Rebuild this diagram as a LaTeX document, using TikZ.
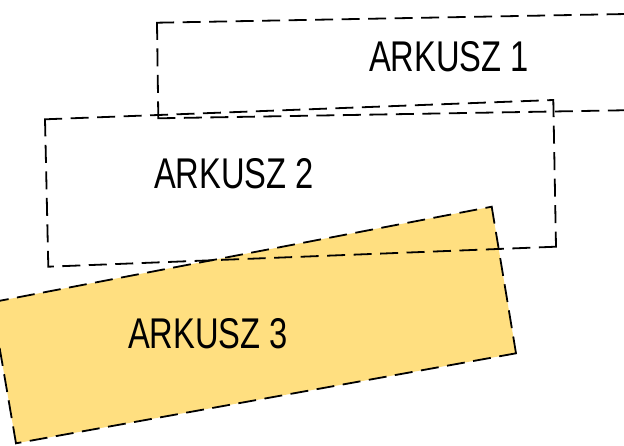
\documentclass[tikz,border=0pt]{standalone}
\usepackage{fontspec}
\setmainfont{Liberation Sans}
\usetikzlibrary{calc}
\definecolor{sheetyellow}{RGB}{255,223,128}
\tikzset{sheet/.style={draw=black, line width=1.8pt, line cap=rect, dash pattern=on 16.2pt off 10.3pt}}
\tikzset{sheetlabel/.style={inner sep=0pt, font=\fontsize{43pt}{43pt}\selectfont}}
\newcommand*\narrow[1]{\scalebox{0.76}[1]{#1}}

\begin{document}
\begin{tikzpicture}[x=1pt, y=-1pt]
        \useasboundingbox (0,0) rectangle (624,445);
        \clip (0,0) rectangle (624,445);

        % arkusz 1, runs off the right edge
        \coordinate (a1) at (157,22.7);
        \coordinate (b1) at (680,13);
        \coordinate (c1) at (680,109.3);
        \coordinate (d1) at (158.3,118.3);
        % arkusz 2
        \coordinate (a2) at (45,119.3);
        \coordinate (b2) at (553.3,100);
        \coordinate (c2) at (556,246.7);
        \coordinate (d2) at (48.3,266.7);
        % arkusz 3, runs off the left edge
        \coordinate (a3) at (-8.2,302.3);
        \coordinate (b3) at (491.7,206.7);
        \coordinate (c3) at (516,353.3);
        \coordinate (d3) at (16,443.3);
        %
        \fill[sheetyellow] (a3) -- (b3) -- (c3) -- (d3) -- cycle;
        \draw[sheet] (a3) -- (b3) (b3) -- (c3) (c3) -- (d3) (d3) -- (a3);
        \draw[sheet] (a1) -- (b1) (b1) -- (c1) (d1) -- (c1) (a1) -- (d1);
        \draw[sheet] (a2) -- (b2) (b2) -- (c2) (c2) -- (d2) (a2) -- (d2);
        %
        \node[sheetlabel] (label1) at (449,56.7) {\narrow{ARKUSZ 1}};
        \node[sheetlabel] (label2) at (234,174) {\narrow{ARKUSZ 2}};
        \node[sheetlabel] (label3) at (208,334) {\narrow{ARKUSZ 3}};
    \end{tikzpicture}
\end{document}
